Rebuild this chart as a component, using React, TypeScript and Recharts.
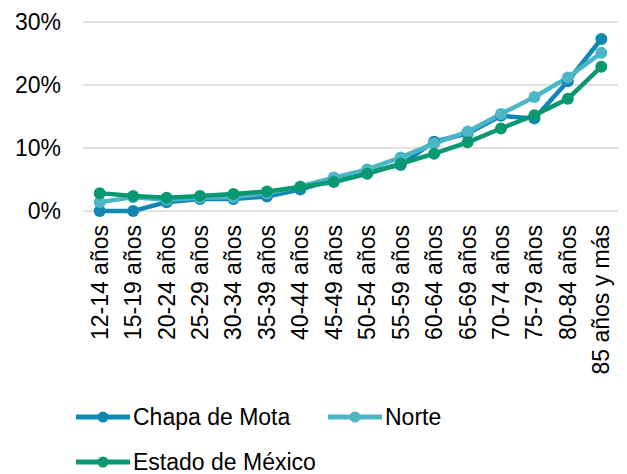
import React from 'react';
import { LineChart, Line, XAxis, YAxis, CartesianGrid } from 'recharts';

const categories = [
  '12-14 años', '15-19 años', '20-24 años', '25-29 años', '30-34 años', '35-39 años',
  '40-44 años', '45-49 años', '50-54 años', '55-59 años', '60-64 años', '65-69 años',
  '70-74 años', '75-79 años', '80-84 años', '85 años y más',
];

// percentages
const chapaDeMota = [0.0, 0.0, 1.4, 1.9, 1.9, 2.3, 3.4, 5.0, 6.2, 7.3, 11.0, 12.3, 15.1, 14.7, 20.6, 27.3];
const norte = [1.4, 2.2, 1.8, 2.1, 2.2, 2.8, 3.9, 5.3, 6.6, 8.5, 10.7, 12.6, 15.4, 18.1, 21.2, 25.1];
const estadoDeMexico = [2.8, 2.4, 2.1, 2.4, 2.7, 3.1, 3.8, 4.6, 5.9, 7.5, 9.1, 10.9, 13.1, 15.2, 17.8, 22.9];

const yTicks = [0, 10, 20, 30];

const series = [
  { key: 'chapa', name: 'Chapa de Mota', color: '#1188b4' },
  { key: 'norte', name: 'Norte', color: '#4cb6c6' },
  { key: 'estado', name: 'Estado de México', color: '#0a9872' },
];

const data = categories.map((cat, i) => ({
  cat,
  chapa: chapaDeMota[i],
  norte: norte[i],
  estado: estadoDeMexico[i],
}));

const FONT = '"Liberation Sans", Arial, sans-serif';

const XTick = (props: any) => {
  const { x, y, payload } = props;
  return (
    <text
      x={x}
      y={y + 14}
      transform={`rotate(-90, ${x}, ${y + 14})`}
      textAnchor="end"
      dominantBaseline="central"
      fontSize={23}
      fontFamily={FONT}
      fill="#000"
    >
      {payload.value}
    </text>
  );
};

const LegendItem = ({ name, color, left, top }: any) => (
  <div style={{ position: 'absolute', left, top, display: 'flex', alignItems: 'center', height: 30 }}>
    <svg width={54} height={14} style={{ display: 'block' }}>
      <line x1={0} y1={7} x2={54} y2={7} stroke={color} strokeWidth={5} strokeLinecap="round" />
      <circle cx={27} cy={7} r={5.5} fill={color} />
    </svg>
    <span style={{ fontFamily: FONT, fontSize: 23, color: '#000', marginLeft: 3, whiteSpace: 'nowrap' }}>{name}</span>
  </div>
);

export default function App() {
  return (
    <div style={{ position: 'absolute', left: 0, top: 0, width: 627, height: 474, background: '#fff' }}>
      <LineChart width={627} height={474} data={data} margin={{ top: 22, right: 9, bottom: 0, left: 0 }}>
        <CartesianGrid vertical={false} stroke="#d9d9d9" strokeWidth={1.5} />
        <XAxis
          dataKey="cat"
          interval={0}
          height={263}
          axisLine={false}
          tickLine={false}
          tickSize={0}
          tickMargin={0}
          padding={{ left: 16.7, right: 16.7 }}
          tick={<XTick />}
        />
        <YAxis
          domain={[0, 30]}
          ticks={yTicks}
          width={83}
          axisLine={false}
          tickLine={false}
          tickSize={6}
          tickMargin={16}
          tickFormatter={(v: number) => `${v}%`}
          tick={{ fontSize: 23, fontFamily: FONT, fill: '#000' }}
        />
        {series.map((s) => (
          <Line
            key={s.key}
            type="linear"
            dataKey={s.key}
            name={s.name}
            stroke={s.color}
            strokeWidth={4.5}
            dot={{ r: 6, fill: s.color, stroke: s.color, strokeWidth: 0 }}
            isAnimationActive={false}
          />
        ))}
      </LineChart>
      <LegendItem name={series[0].name} color={series[0].color} left={76} top={402} />
      <LegendItem name={series[1].name} color={series[1].color} left={328} top={402} />
      <LegendItem name={series[2].name} color={series[2].color} left={76} top={447} />
    </div>
  );
}
